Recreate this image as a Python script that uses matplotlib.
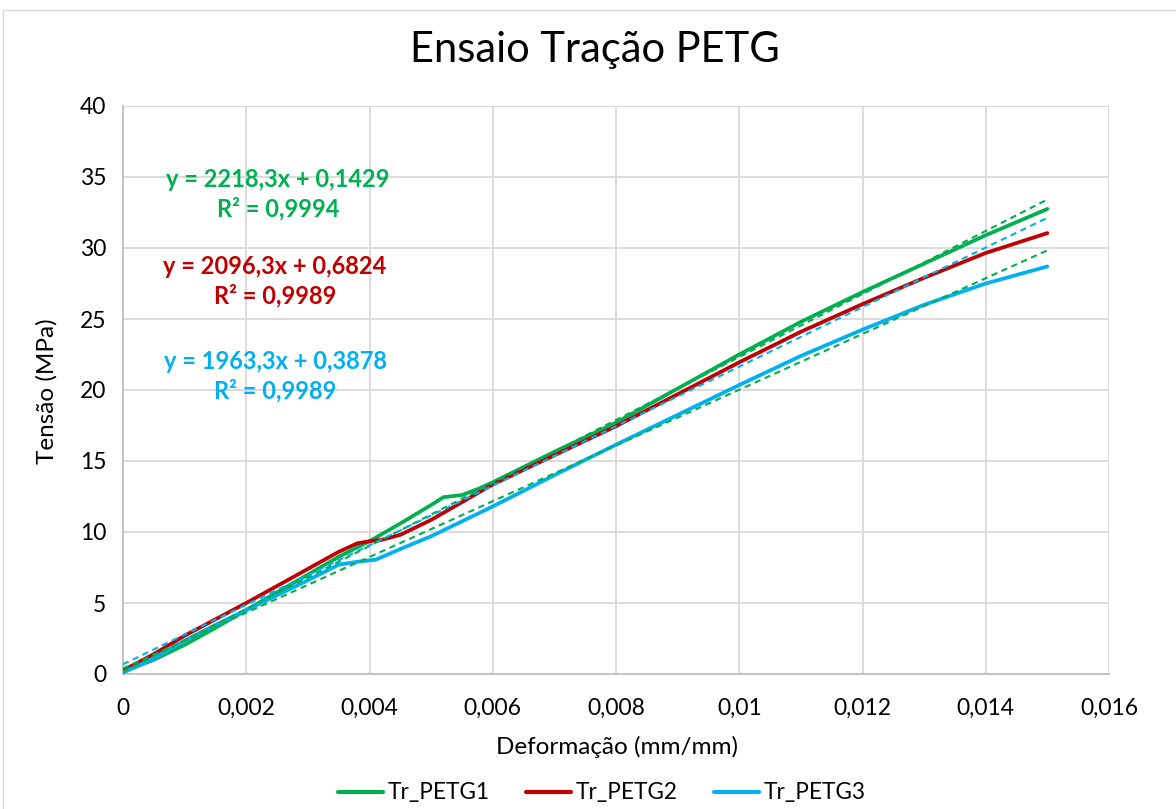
import matplotlib
matplotlib.use("Agg")
import matplotlib.pyplot as plt
from matplotlib.patches import Rectangle

# ---- data ----
x1 = [0, 0.0005, 0.001, 0.0015, 0.002, 0.0025, 0.003, 0.0035, 0.004, 0.0045, 0.005,
      0.0052, 0.0055, 0.0058, 0.006, 0.007, 0.008, 0.009, 0.010, 0.011, 0.012, 0.013, 0.014, 0.015]
y1 = [0.15, 1.0, 2.05, 3.25, 4.5, 5.75, 7.0, 8.25, 9.35, 10.6, 11.9,
      12.45, 12.6, 13.1, 13.5, 15.65, 17.7, 20.1, 22.5, 24.8, 26.9, 28.9, 30.9, 32.75]

x2 = [0, 0.0005, 0.001, 0.0015, 0.002, 0.0025, 0.003, 0.0035, 0.0038, 0.004, 0.0042, 0.0045,
      0.005, 0.0055, 0.006, 0.007, 0.008, 0.009, 0.010, 0.011, 0.012, 0.013, 0.014, 0.015]
y2 = [0.25, 1.4, 2.7, 3.85, 5.0, 6.2, 7.4, 8.6, 9.2, 9.35, 9.45, 9.8,
      10.85, 12.1, 13.35, 15.4, 17.45, 19.7, 21.95, 24.1, 26.05, 27.9, 29.65, 31.05]

x3 = [0, 0.0005, 0.001, 0.0015, 0.002, 0.0025, 0.003, 0.0035, 0.0038, 0.0041, 0.0045,
      0.005, 0.0055, 0.006, 0.007, 0.008, 0.009, 0.010, 0.011, 0.012, 0.013, 0.014, 0.015]
y3 = [0.1, 1.1, 2.35, 3.45, 4.5, 5.55, 6.6, 7.7, 7.9, 8.05, 8.8,
      9.7, 10.75, 11.8, 14.0, 16.15, 18.25, 20.35, 22.4, 24.25, 26.0, 27.5, 28.7]

series_names = ["Tr_PETG1", "Tr_PETG2", "Tr_PETG3"]
slopes = [2218.3, 2096.3, 1963.3]
intercepts = [0.1429, 0.6824, 0.3878]
eq_labels = ["y = 2218,3x + 0,1429\nR² = 0,9994",
             "y = 2096,3x + 0,6824\nR² = 0,9989",
             "y = 1963,3x + 0,3878\nR² = 0,9989"]
trend_x = [0, 0.015]

x_ticks = [0, 0.002, 0.004, 0.006, 0.008, 0.010, 0.012, 0.014, 0.016]
x_tick_labels = ["0", "0,002", "0,004", "0,006", "0,008", "0,01", "0,012", "0,014", "0,016"]
y_ticks = [0, 5, 10, 15, 20, 25, 30, 35, 40]

# ---- styling ----
GREEN = "#00B050"
RED = "#C00000"
BLUE = "#00B0F0"
series_colors = [GREEN, RED, BLUE]
trend_colors = [GREEN, BLUE, GREEN]

plt.rcParams['font.family'] = ['Lato', 'DejaVu Sans']

W, H = 1176, 809
fig = plt.figure(figsize=(W/100, H/100), dpi=100)
ax = fig.add_axes([123/W, 1-674/H, (1109-123)/W, (674-106)/H])

# chart border
fig.patches.append(Rectangle((3/W, -0.1), 1.2, 1 - 10/H + 0.1,
                             transform=fig.transFigure, fill=False,
                             edgecolor="#d9d9d9", linewidth=1.0))

xs = [x1, x2, x3]
ys = [y1, y2, y3]
handles = []
for xv, yv, c, n in zip(xs, ys, series_colors, series_names):
    h, = ax.plot(xv, yv, color=c, lw=2.7, label=n, solid_capstyle='round',
                 solid_joinstyle='round', zorder=3)
    handles.append(h)

for m, b, c in zip(slopes, intercepts, trend_colors):
    ty = [m * t + b for t in trend_x]
    ax.plot(trend_x, ty, color=c, lw=1.5, ls=(0, (3, 2.2)), zorder=4)

ax.set_xlim(0, 0.016)
ax.set_ylim(0, 40)
ax.set_xticks(x_ticks)
ax.set_xticklabels(x_tick_labels)
ax.set_yticks(y_ticks)
ax.tick_params(axis='both', length=0, labelsize=16.5, colors="#000000")
ax.tick_params(axis='x', pad=17)
ax.tick_params(axis='y', pad=12)
ax.grid(True, color="#d9d9d9", lw=1.3)
ax.set_axisbelow(True)
for s in ["top", "right"]:
    ax.spines[s].set_visible(False)
for s in ["left", "bottom"]:
    ax.spines[s].set_color("#bfbfbf")
    ax.spines[s].set_linewidth(1.3)

ax.set_xlabel("Deformação (mm/mm)", fontsize=17.5)
ax.set_ylabel("Tensão (MPa)", fontsize=17.5)
ax.xaxis.set_label_coords(((493+740)/2 - 123)/986, (674-747)/568)
ax.xaxis.label.set_va("center")
ax.yaxis.set_label_coords((47-123)/986, (674-391)/568)
ax.yaxis.label.set_va("center")

fig.text(595/W, 1-50/H, "Ensaio Tração PETG", ha="center", va="center", fontsize=30)

eq_pos = [(278, 194), (275, 281), (275, 376)]
for (px, py), txt, c in zip(eq_pos, eq_labels, series_colors):
    fig.text(px/W, 1-py/H, txt, ha="center", va="center", color=c,
             fontsize=17, fontweight="bold", linespacing=1.3)

leg = fig.legend(handles=handles, loc="center", bbox_to_anchor=(602/W, 1-793/H),
                 ncol=3, frameon=False, fontsize=16.3, handlelength=2.0,
                 columnspacing=1.6, handletextpad=0.2)
for lh in leg.get_lines():
    lh.set_linewidth(3.0)

fig.savefig("out.png", dpi=100)
